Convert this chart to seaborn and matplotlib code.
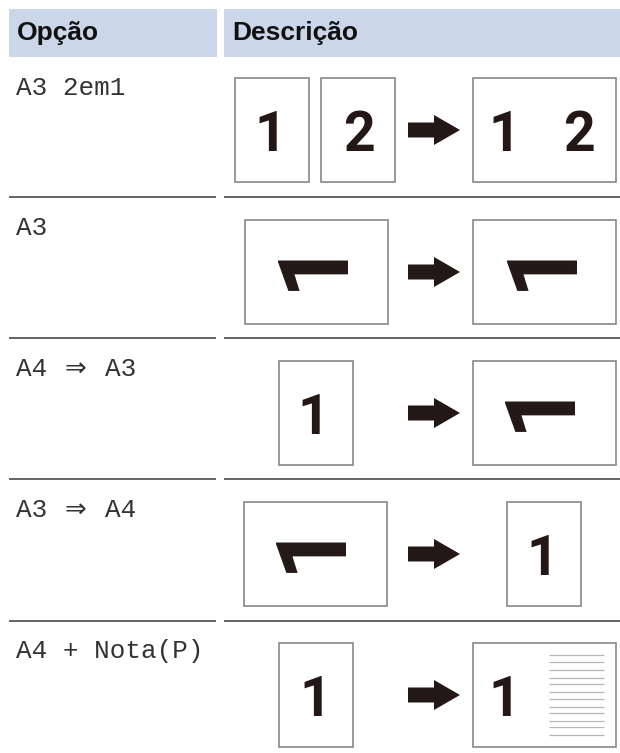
import matplotlib
matplotlib.use("Agg")
import matplotlib.pyplot as plt
from matplotlib.patches import Rectangle, Polygon
import seaborn as sns

headers = ["Opção", "Descrição"]
options = ["A3 2em1", "A3", "A4 ⇒ A3", "A3 ⇒ A4", "A4 + Nota(P)"]
option_base = [95, 235, 376, 517, 658]
page_top = [78, 220, 361, 502, 643]
arrow_mid = [130, 272, 413, 554, 695]
separators = [197, 338, 479, 621]

# tall and wide pages: x, width
tall = 74
wide = 143
pages = [
    [(235, tall), (321, tall), (473, wide)],
    [(245, wide), (473, wide)],
    [(279, tall), (473, wide)],
    [(244, wide), (507, tall)],
    [(279, tall), (473, wide)],
]
# x centre, text, turned on its side or not
digits = [
    [(270, "1", False), (359, "2", False), (504, "1", False), (579, "2", False)],
    [(341, "1", True), (570, "1", True)],
    [(313, "1", False), (568, "1", True)],
    [(339, "1", True), (542, "1", False)],
    [(315, "1", False), (504, "1", False)],
]
note_lines = [65, 71.5, 79.5, 87.5, 94, 102, 108.5, 116.5, 122.5, 130.5, 137, 145]

sns.set_theme(style="white")
plt.rcParams["font.family"] = ["Liberation Sans", "DejaVu Sans"]
mono = ["Liberation Mono", "DejaVu Sans Mono", "DejaVu Sans"]
digit_font = ["Roboto", "Open Sans", "DejaVu Sans"]

fig, ax = plt.subplots(figsize=(6.2, 7.53), dpi=100)
fig.subplots_adjust(0, 0, 1, 1)
ax.set_xlim(0, 620)
ax.set_ylim(753, 0)
ax.axis("off")
sns.despine(ax=ax, left=True, bottom=True)

ax.add_patch(Rectangle((9, 9), 208, 48, color="#cbd7e8", lw=0))
ax.add_patch(Rectangle((224, 9), 396, 48, color="#cbd7e8", lw=0))
ax.text(16.5, 40, headers[0], fontsize=19, fontweight="bold", color="#111111")
ax.text(232, 40, headers[1], fontsize=19, fontweight="bold", color="#111111")

for y in separators:
    ax.plot([9, 216], [y, y], color="#3a3a3a", lw=1.1, solid_capstyle="butt")
    ax.plot([224, 620], [y, y], color="#3a3a3a", lw=1.1, solid_capstyle="butt")


def draw_arrow(mid):
    ax.add_patch(Polygon([(408, mid - 7.5), (434, mid - 7.5), (434, mid - 15), (460, mid),
                          (434, mid + 15), (434, mid + 7.5), (408, mid + 7.5)],
                         closed=True, color="#231815", lw=0))


for i, label in enumerate(options):
    base = option_base[i]
    if "⇒" in label:
        # the arrow is wider than the mono cell in the reference
        left, right = label.split(" ⇒ ")
        ax.text(16, base, left, fontsize=18.7, family=mono, color="#333333")
        ax.text(65, base, "⇒", fontsize=18.7, family="DejaVu Sans", color="#333333")
        ax.text(105, base, right, fontsize=18.7, family=mono, color="#333333")
    else:
        ax.text(16, base, label, fontsize=18.7, family=mono, color="#333333")
    top = page_top[i]
    for x, w in pages[i]:
        ax.add_patch(Rectangle((x, top), w, 104, fc="white", ec="#8a8684", lw=1.2))
    draw_arrow(arrow_mid[i])
    for x, d, turned in digits[i]:
        if turned:
            ax.text(x, top + 42, d, fontsize=71, fontweight="bold", family=digit_font, color="#231815",
                    rotation=90, ha="center", va="baseline", rotation_mode="anchor")
        else:
            ax.text(x, top + 73, d, fontsize=40, fontweight="bold", family=digit_font, color="#231815",
                    ha="center", va="baseline")

for dy in note_lines:
    y = page_top[4] + dy - 53
    ax.plot([549, 604], [y, y], color="#b9b7b6", lw=0.9, solid_capstyle="butt")

fig.savefig("out.png", dpi=100)
